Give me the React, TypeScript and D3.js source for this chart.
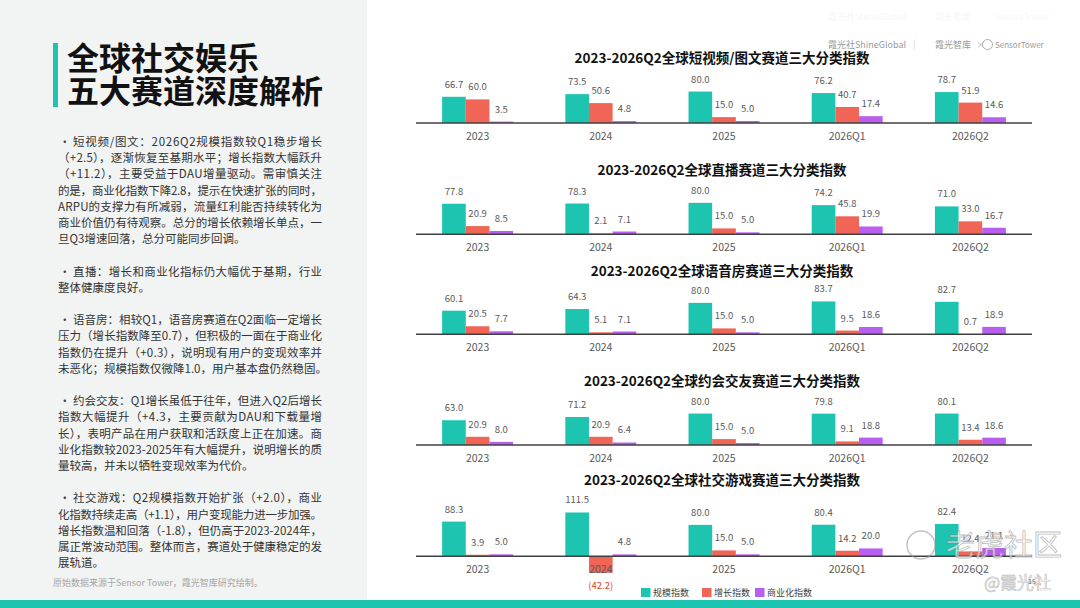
import * as React from 'react';
import * as d3 from 'd3';

// ---- data ----
const categories = ['2023', '2024', '2025', '2026Q1', '2026Q2'];
const seriesNames = ['规模指数', '增长指数', '商业化指数'];
const chartTitles = [
	'2023-2026Q2全球短视频/图文赛道三大分类指数',
	'2023-2026Q2全球直播赛道三大分类指数',
	'2023-2026Q2全球语音房赛道三大分类指数',
	'2023-2026Q2全球约会交友赛道三大分类指数',
	'2023-2026Q2全球社交游戏赛道三大分类指数',
];

// [规模, 增长, 商业化] per track
const shortVideo = [
	[66.7, 73.5, 80.0, 76.2, 78.7],
	[60.0, 50.6, 15.0, 40.7, 51.9],
	[3.5, 4.8, 5.0, 17.4, 14.6],
];
const liveStream = [
	[77.8, 78.3, 80.0, 74.2, 71.0],
	[20.9, 2.1, 15.0, 45.8, 33.0],
	[8.5, 7.1, 5.0, 19.9, 16.7],
];
const voiceRoom = [
	[60.1, 64.3, 80.0, 83.7, 82.7],
	[20.5, 5.1, 15.0, 9.5, 0.7],
	[7.7, 7.1, 5.0, 18.6, 18.9],
];
const dating = [
	[63.0, 71.2, 80.0, 79.8, 80.1],
	[20.9, 20.9, 15.0, 9.1, 13.4],
	[8.0, 6.4, 5.0, 18.8, 18.6],
];
const socialGame = [
	[88.3, 111.5, 80.0, 80.4, 82.4],
	[3.9, -42.2, 15.0, 14.2, 12.4],
	[5.0, 4.8, 5.0, 20.0, 21.1],
];
const tracks = [shortVideo, liveStream, voiceRoom, dating, socialGame];

const headline = ['全球社交娱乐', '五大赛道深度解析'];
const paragraphs = [
	[
		'• 短视频/图文：2026Q2规模指数较Q1稳步增长',
		'（+2.5），逐渐恢复至基期水平；增长指数大幅跃升',
		'（+11.2），主要受益于DAU增量驱动。需审慎关注',
		'的是，商业化指数下降2.8，提示在快速扩张的同时，',
		'ARPU的支撑力有所减弱，流量红利能否持续转化为',
		'商业价值仍有待观察。总分的增长依赖增长单点，一',
		'旦Q3增速回落，总分可能同步回调。',
	],
	['• 直播：增长和商业化指标仍大幅优于基期，行业', '整体健康度良好。'],
	[
		'• 语音房：相较Q1，语音房赛道在Q2面临一定增长',
		'压力（增长指数降至0.7），但积极的一面在于商业化',
		'指数仍在提升（+0.3），说明现有用户的变现效率并',
		'未恶化；规模指数仅微降1.0，用户基本盘仍然稳固。',
	],
	[
		'• 约会交友：Q1增长虽低于往年，但进入Q2后增长',
		'指数大幅提升（+4.3，主要贡献为DAU和下载量增',
		'长），表明产品在用户获取和活跃度上正在加速。商',
		'业化指数较2023-2025年有大幅提升，说明增长的质',
		'量较高，并未以牺牲变现效率为代价。',
	],
	[
		'• 社交游戏：Q2规模指数开始扩张（+2.0），商业',
		'化指数持续走高（+1.1），用户变现能力进一步加强。',
		'增长指数温和回落（-1.8），但仍高于2023-2024年，',
		'属正常波动范围。整体而言，赛道处于健康稳定的发',
		'展轨道。',
	],
];

// ---- layout ----
const W = 1080;
const H = 608;
const FONT = '"Noto Sans CJK SC", "Noto Sans", sans-serif';
const colors = ['#1dc5b0', '#f06556', '#b95ff0'];
const titleYs = [58, 170, 271, 381, 480];
const axisYs = [123, 234.3, 334.3, 445, 556.3];
const pxPerUnit = 0.393;

const x0 = d3.scaleBand<string>().domain(categories).range([416, 1032]).paddingInner(0.424).paddingOuter(0.212);
const x1 = d3.scaleBand<string>().domain(['0', '1', '2']).range([0, x0.bandwidth()]);

const BarChart = ({ values, title, titleY, axisY }) => {
	const y = d3.scaleLinear().domain([0, 100]).range([axisY, axisY - 100 * pxPerUnit]);
	return (
		<g>
			<text x={722} y={titleY + 5} textAnchor='middle' fontSize={13.5} fontWeight={700} fill='#111'>
				{title}
			</text>
			{values.map((series, s) =>
				series.map((v, i) => {
					const bx = x0(categories[i]) + x1(String(s));
					const top = Math.min(y(v), y(0));
					const h = Math.abs(y(v) - y(0));
					const cx = bx + x1.bandwidth() / 2;
					return (
						<g key={`${s}-${i}`}>
							<rect x={bx} y={top} width={x1.bandwidth()} height={h} fill={colors[s]} />
							{v >= 0 ? (
								<text x={cx} y={y(v) - 9} textAnchor='middle' fontSize={9.5} fill='#595959'>
									{v.toFixed(1)}
								</text>
							) : (
								<text x={cx} y={y(v) + 16.5} textAnchor='middle' fontSize={9.5} fill='#e0402f'>
									({Math.abs(v).toFixed(1)})
								</text>
							)}
						</g>
					);
				})
			)}
			<line x1={416} x2={1032} y1={axisY} y2={axisY} stroke='#404040' strokeWidth={1.4} />
			{categories.map(c => (
				<text key={c} x={x0(c) + x0.bandwidth() / 2} y={axisY + 17} textAnchor='middle' fontSize={10.5} fill='#595959'>
					{c}
				</text>
			))}
		</g>
	);
};

const LeftPanel = () => {
	const lineH = 16.2;
	let cursor = 146;
	const rows = [];
	paragraphs.forEach((para, p) => {
		para.forEach((line, li) => {
			const last = li === para.length - 1;
			const isBullet = line.startsWith('•');
			const body = isBullet ? line.slice(2) : line;
			const x = isBullet ? 73 : 58;
			rows.push(
				<g key={`${p}-${li}`}>
					{isBullet ? (
						<text x={59} y={cursor} fontSize={11.5} fill='#404040'>
							•
						</text>
					) : null}
					<text
						x={x}
						y={cursor}
						fontSize={11.5}
						fill='#333'
						textLength={last ? undefined : 322 - x}
						lengthAdjust={last ? undefined : 'spacing'}
					>
						{body}
					</text>
				</g>
			);
			cursor += lineH;
		});
		cursor += lineH;
	});
	return (
		<g>
			<rect x={0} y={0} width={367} height={600} fill='#f2f3f3' />
			<rect x={53} y={43} width={5} height={64} fill='#1dc5b0' />
			{headline.map((t, i) => (
				<text key={t} x={67} y={70 + i * 33} fontSize={32} fontWeight={700} fill='#111'>
					{t}
				</text>
			))}
			{rows}
			<text x={53} y={586} fontSize={9} fill='#a6a6a6'>
				原始数据来源于Sensor Tower，霞光智库研究绘制。
			</text>
		</g>
	);
};

const Legend = () => {
	const xs = [641, 702, 755];
	return (
		<g>
			{seriesNames.map((n, i) => (
				<g key={n} transform={`translate(${xs[i]},588)`}>
					<rect width={9.5} height={9} fill={colors[i]} />
					<text x={12} y={8} fontSize={9} fill='#404040'>
						{n}
					</text>
				</g>
			))}
		</g>
	);
};

const Header = () => (
	<g fontSize={9}>
		<g fill='#f7f7f7' transform='translate(0,-28)'>
			<text x={828} y={47.5}>霞光社ShineGlobal</text>
			<text x={935} y={47.5}>霞光智库</text>
			<text x={995} y={47.5}>SensorTower</text>
		</g>
		<g fill='#9a9a9a'>
			<text x={828} y={47.5}>霞光社ShineGlobal</text>
			<text x={913} y={47.5} fill='#d0d0d0'>|</text>
			<text x={935} y={47.5}>霞光智库</text>
			<text x={976} y={47.5} fill='#c0c0c0'>×</text>
			<circle cx={987.5} cy={44.5} r={5} fill='none' stroke='#9a9a9a' strokeWidth={0.8} />
			<text x={995} y={47.5} fontSize={8}>SensorTower</text>
		</g>
	</g>
);

const Watermark = () => (
	<g>
		<circle cx={921} cy={545} r={14} fill='none' stroke='rgba(150,150,150,0.55)' strokeWidth={1.5} />
		<text x={946} y={556} fontSize={29} fill='rgba(255,255,255,0.6)' stroke='rgba(130,130,130,0.5)' strokeWidth={0.9}>
			老虎社区
		</text>
		<text x={984} y={589} fontSize={17} fill='rgba(255,255,255,0.5)' stroke='rgba(140,140,140,0.55)' strokeWidth={0.7}>
			@霞光社
		</text>
		<text x={1028} y={584} fontSize={7} fill='#666'>
			15
		</text>
	</g>
);

export default function App() {
	return (
		<svg
			width={W}
			height={H}
			viewBox={`0 0 ${W} ${H}`}
			style={{ position: 'absolute', left: 0, top: 0, background: '#fff' }}
			fontFamily={FONT}
		>
			<rect width={W} height={H} fill='#fff' />
			<LeftPanel />
			<Header />
			{tracks.map((values, i) => (
				<BarChart key={i} values={values} title={chartTitles[i]} titleY={titleYs[i]} axisY={axisYs[i]} />
			))}
			<Legend />
			<rect x={0} y={600} width={W} height={8} fill='#1dc5b0' />
			<Watermark />
		</svg>
	);
}
